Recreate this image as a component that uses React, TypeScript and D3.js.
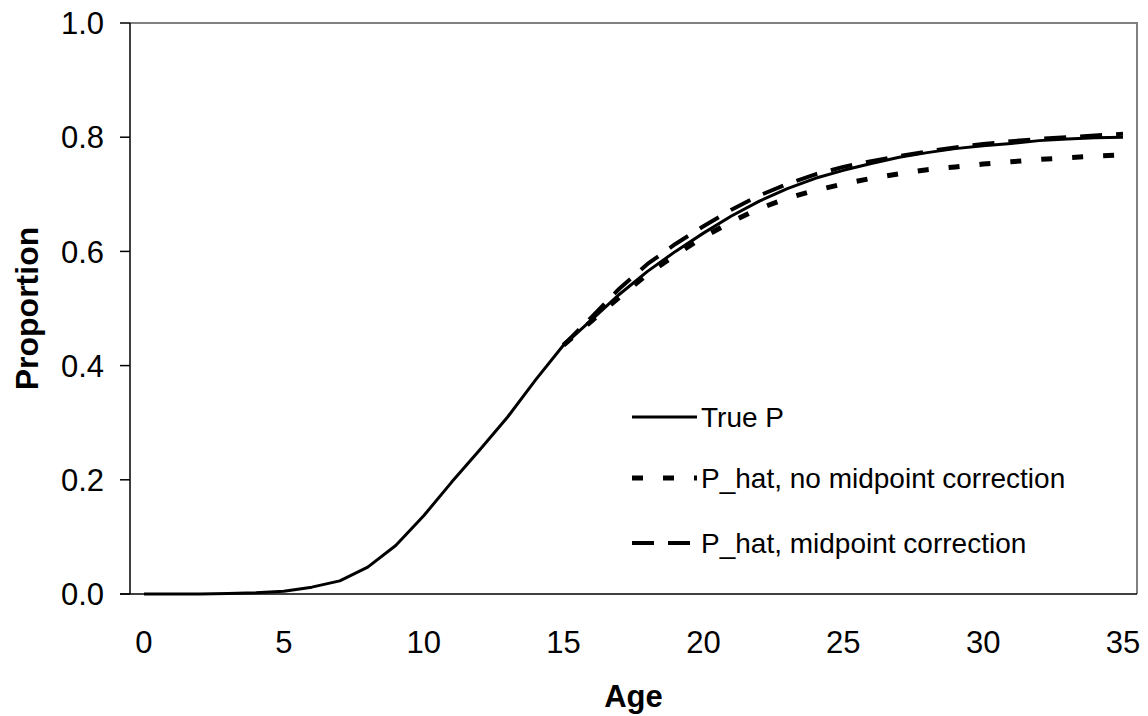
import React from "react";
import * as d3 from "d3";

const ages = d3.range(0, 36);
const trueP = [
  0, 0, 0, 0.001, 0.002, 0.005, 0.012, 0.023, 0.047, 0.085, 0.137, 0.196,
  0.252, 0.31, 0.375, 0.436, 0.48, 0.525, 0.565, 0.6, 0.632, 0.662, 0.688,
  0.71, 0.728, 0.742, 0.754, 0.765, 0.773, 0.78, 0.785, 0.789, 0.794, 0.797,
  0.799, 0.8,
];
// the two estimates coincide with True P below age 15
const hatAges = d3.range(15, 36);
const pHatNoMid = [
  0.436, 0.478, 0.52, 0.56, 0.594, 0.625, 0.652, 0.675, 0.693, 0.707, 0.718,
  0.728, 0.736, 0.743, 0.748, 0.753, 0.757, 0.761, 0.764, 0.767, 0.769,
];
const pHatMid = [
  0.436, 0.485, 0.535, 0.578, 0.613, 0.644, 0.673, 0.698, 0.718, 0.735, 0.748,
  0.758, 0.767, 0.775, 0.782, 0.788, 0.793, 0.797, 0.8, 0.803, 0.806,
];
const xTicks = [0, 5, 10, 15, 20, 25, 30, 35];
const yTicks = [0, 0.2, 0.4, 0.6, 0.8, 1.0];
const legendLabels = [
  "True P",
  "P_hat, no midpoint correction",
  "P_hat, midpoint correction",
];

const W = 1148;
const H = 716;
const left = 130;
const right = 1137;
const top = 23;
const bottom = 594;
const font = "'Liberation Sans', Arial, sans-serif";

export default function App() {
  const x = d3.scalePoint<number>().domain(ages).range([left, right]).padding(0.5);
  const y = d3.scaleLinear().domain([0, 1]).range([bottom, top]);

  const line = d3
    .line<[number, number]>()
    .x((d) => x(d[0]) as number)
    .y((d) => y(d[1]));

  const series = [
    { pts: ages.map((a, i) => [a, trueP[i]] as [number, number]), dash: null, w: 3 },
    { pts: hatAges.map((a, i) => [a, pHatNoMid[i]] as [number, number]), dash: "11 20", w: 5 },
    { pts: hatAges.map((a, i) => [a, pHatMid[i]] as [number, number]), dash: "22 14", w: 4 },
  ];
  const legendY = [417, 478, 543];

  return (
    <svg
      width={W}
      height={H}
      style={{ position: "absolute", left: 0, top: 0, background: "#fff" }}
      fontFamily={font}
    >
      <rect x={0} y={0} width={W} height={H} fill="#fff" />
      {/* plot area border (top and right) */}
      <path
        d={`M${left},${top}H${right}V${bottom}`}
        fill="none"
        stroke="#808080"
        strokeWidth={2}
      />
      {/* y axis */}
      <line x1={left} x2={left} y1={top} y2={bottom} stroke="#000" strokeWidth={1.5} />
      {yTicks.map((t) => (
        <g key={t}>
          <line x1={left - 10} x2={left} y1={y(t)} y2={y(t)} stroke="#000" strokeWidth={1.5} />
          <text x={104} y={y(t)} dy="0.36em" textAnchor="end" fontSize={31}>
            {t.toFixed(1)}
          </text>
        </g>
      ))}
      {/* x axis */}
      <line x1={left - 10} x2={right} y1={bottom} y2={bottom} stroke="#000" strokeWidth={1.5} />
      {xTicks.map((t) => (
        <text key={t} x={x(t)} y={653} textAnchor="middle" fontSize={31}>
          {t}
        </text>
      ))}
      <text x={(left + right) / 2} y={707} textAnchor="middle" fontSize={31} fontWeight="bold">
        Age
      </text>
      <text
        transform={`translate(38,${(top + bottom) / 2}) rotate(-90)`}
        textAnchor="middle"
        fontSize={32}
        fontWeight="bold"
      >
        Proportion
      </text>
      {series.map((s, i) => (
        <path
          key={i}
          d={line(s.pts) || ""}
          fill="none"
          stroke="#000"
          strokeWidth={s.w}
          strokeDasharray={s.dash || undefined}
          strokeLinejoin="round"
        />
      ))}
      {/* legend */}
      {legendLabels.map((lab, i) => (
        <g key={lab}>
          <line
            x1={632}
            x2={697}
            y1={legendY[i]}
            y2={legendY[i]}
            stroke="#000"
            strokeWidth={series[i].w}
            strokeDasharray={series[i].dash || undefined}
          />
          <text x={701} y={legendY[i]} dy="0.36em" fontSize={28}>
            {lab}
          </text>
        </g>
      ))}
    </svg>
  );
}
